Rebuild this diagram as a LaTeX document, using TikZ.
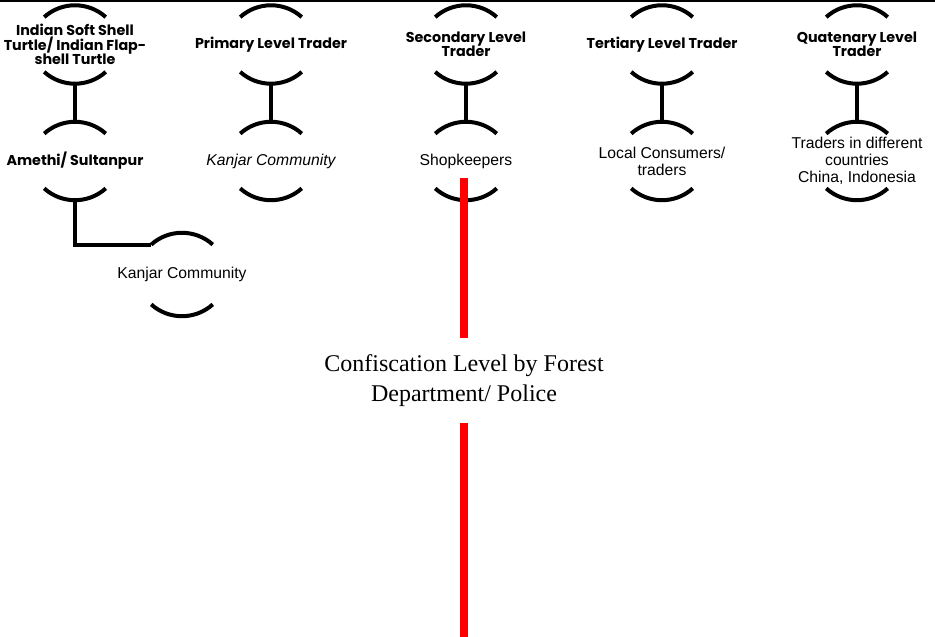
\documentclass[tikz,border=0pt]{standalone}
\usepackage{fontspec}
\setmainfont{Liberation Serif}
\setsansfont{Liberation Sans}
\newfontfamily\hdrfont{Poppins}
\usetikzlibrary{calc}
\begin{document}
\begin{tikzpicture}[x=1pt,y=1pt,
  stage/.style={minimum width=62pt, minimum height=78pt, inner sep=0pt, align=center},
  hdr/.style={font=\hdrfont\bfseries\fontsize{14.3}{14.5}\selectfont},
  body/.style={font=\sffamily\fontsize{15.7}{17}\selectfont},
  bodyit/.style={font=\sffamily\itshape\fontsize{15.7}{17}\selectfont},
  conftext/.style={font=\rmfamily\fontsize{24}{30}\selectfont, align=center, minimum height=85pt, inner sep=0pt},
  arcline/.style={line width=4pt, black},
  link/.style={line width=4pt, black},
  redlink/.style={line width=8pt, red},
]
\useasboundingbox (0,0) rectangle (935,637);
\fill[black] (0,634.5) rectangle (935,637);

% row 1
\node[stage,hdr] (h1) at (75,592.5) {Indian Soft Shell\\Turtle/ Indian Flap-\\shell Turtle};
\node[stage,hdr] (h2) at (271,592.5) {Primary Level Trader};
\node[stage,hdr] (h3) at (466,592.5) {Secondary Level\\Trader};
\node[stage,hdr] (h4) at (662,592.5) {Tertiary Level Trader};
\node[stage,hdr] (h5) at (857,592.5) {Quatenary Level\\Trader};

% row 2
\node[stage,hdr] (a2) at (75,476) {Amethi/ Sultanpur};
\node[stage,bodyit] (b2) at (271,476) {Kanjar Community};
\node[stage,body] (c2) at (466,476) {Shopkeepers};
\node[stage,body] (d2) at (662,476) {Local Consumers/\\traders};
\node[stage,body] (e2) at (857,476) {Traders in different\\countries\\China, Indonesia};

% row 3
\node[stage,body,minimum height=83pt] (k3) at (182,362.5) {Kanjar Community};

% arcs of every stage
\foreach \n in {h1,h2,h3,h4,h5,a2,b2,c2,d2,e2,k3} {
  \draw[arcline] ($(\n.north)+(-30.8,-11.8)$) arc[start angle=132,end angle=48,radius=46];
  \draw[arcline] ($(\n.south)+(-30.8,11.8)$) arc[start angle=228,end angle=312,radius=46];
}

% connectors
\draw[link] (h1.south) -- (a2.north);
\draw[link] (h2.south) -- (b2.north);
\draw[link] (h3.south) -- (c2.north);
\draw[link] (h4.south) -- (d2.north);
\draw[link] (h5.south) -- (e2.north);
\draw[link] (a2.south) |- ($(k3.north)+(-30.8,-11.8)$);

% confiscation
\coordinate (redtop) at (464,459);
\coordinate (redbot) at (464,0);
\node[conftext] (conf) at (464,256.5) {Confiscation Level by Forest\\Department/ Police};
\draw[redlink] (redtop) -- (conf.north);
\draw[redlink] (conf.south) -- (redbot);
\end{tikzpicture}
\end{document}
